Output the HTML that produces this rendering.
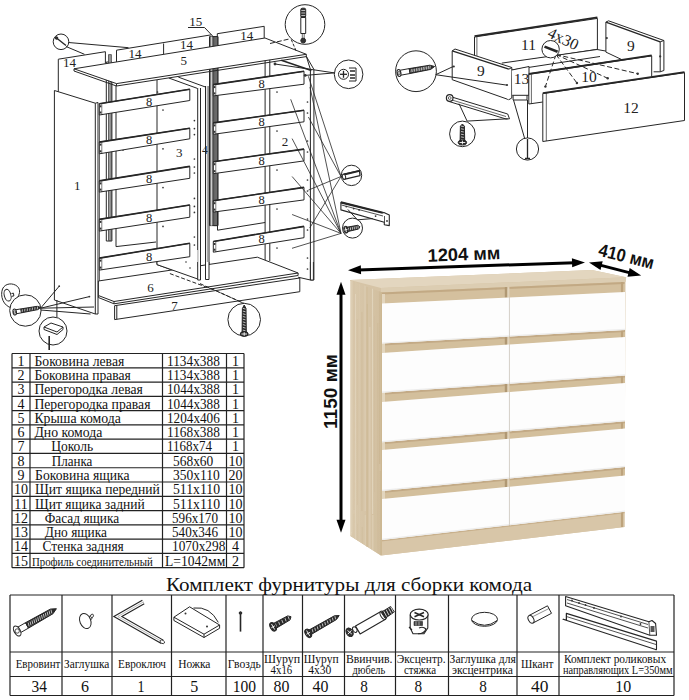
<!DOCTYPE html><html><head><meta charset="utf-8"><style>html,body{margin:0;padding:0;background:#fff;width:689px;height:700px;overflow:hidden}svg{display:block}</style></head><body><svg width="689" height="700" viewBox="0 0 689 700"><rect width="689" height="700" fill="#fff"/><defs><linearGradient id="wside" x1="0" x2="1" y1="0" y2="0"><stop offset="0" stop-color="#ddcfb5"/><stop offset="0.15" stop-color="#d8c7aa"/><stop offset="0.6" stop-color="#d5c3a5"/><stop offset="1" stop-color="#d2bf9f"/></linearGradient><pattern id="grain" width="7" height="40" patternUnits="userSpaceOnUse"><rect width="7" height="40" fill="none"/><line x1="1.5" y1="0" x2="1.5" y2="40" stroke="#c9b592" stroke-width="0.5" opacity="0.5"/><line x1="4.5" y1="0" x2="4.5" y2="40" stroke="#e6d9c2" stroke-width="0.6" opacity="0.6"/></pattern></defs><polygon points="350,280 592,270 626.2,277.2 625.5,282 624.5,527 381,555.5 350.4,536" fill="#d6c4a6"/><polygon points="350,280 381,292 381,555.5 350.4,536" fill="url(#wside)"/><clipPath id="sideclip"><polygon points="350,280 381,292 381,555.5 350.4,536"/></clipPath><g clip-path="url(#sideclip)"><line x1="351.5" y1="274" x2="351.4" y2="532" stroke="#c8b38f" stroke-width="0.99" opacity="0.32"/><line x1="351.8" y1="533" x2="351.8" y2="733" stroke="#c8b38f" stroke-width="0.99" opacity="0.25"/><line x1="353.8" y1="275" x2="354.1" y2="510" stroke="#c8b38f" stroke-width="0.46" opacity="0.45"/><line x1="354.1" y1="514" x2="354.1" y2="714" stroke="#c8b38f" stroke-width="0.46" opacity="0.36"/><line x1="355.5" y1="294" x2="355.1" y2="639" stroke="#e6dac4" stroke-width="0.92" opacity="0.68"/><line x1="355.8" y1="665" x2="355.8" y2="865" stroke="#e6dac4" stroke-width="0.92" opacity="0.54"/><line x1="357.3" y1="319" x2="357.4" y2="505" stroke="#c8b38f" stroke-width="0.68" opacity="0.30"/><line x1="357.6" y1="524" x2="357.6" y2="724" stroke="#c8b38f" stroke-width="0.68" opacity="0.24"/><line x1="359.4" y1="282" x2="359.3" y2="568" stroke="#e6dac4" stroke-width="0.45" opacity="0.28"/><line x1="359.7" y1="578" x2="359.7" y2="778" stroke="#e6dac4" stroke-width="0.45" opacity="0.22"/><line x1="361.9" y1="312" x2="361.9" y2="511" stroke="#c8b38f" stroke-width="1.11" opacity="0.38"/><line x1="362.2" y1="527" x2="362.2" y2="727" stroke="#c8b38f" stroke-width="1.11" opacity="0.31"/><line x1="365.0" y1="277" x2="365.2" y2="511" stroke="#e6dac4" stroke-width="1.28" opacity="0.38"/><line x1="365.3" y1="515" x2="365.3" y2="715" stroke="#e6dac4" stroke-width="1.28" opacity="0.30"/><line x1="367.3" y1="304" x2="367.1" y2="629" stroke="#c8b38f" stroke-width="1.09" opacity="0.55"/><line x1="367.6" y1="650" x2="367.6" y2="850" stroke="#c8b38f" stroke-width="1.09" opacity="0.44"/><line x1="369.8" y1="327" x2="369.9" y2="572" stroke="#e6dac4" stroke-width="1.16" opacity="0.46"/><line x1="370.1" y1="573" x2="370.1" y2="773" stroke="#e6dac4" stroke-width="1.16" opacity="0.36"/><line x1="372.5" y1="287" x2="372.6" y2="514" stroke="#e6dac4" stroke-width="1.14" opacity="0.70"/><line x1="372.8" y1="515" x2="372.8" y2="715" stroke="#e6dac4" stroke-width="1.14" opacity="0.56"/><line x1="374.7" y1="316" x2="374.5" y2="492" stroke="#c8b38f" stroke-width="0.45" opacity="0.30"/><line x1="375.0" y1="504" x2="375.0" y2="704" stroke="#c8b38f" stroke-width="0.45" opacity="0.24"/><line x1="377.8" y1="323" x2="378.1" y2="637" stroke="#c8b38f" stroke-width="0.89" opacity="0.45"/><line x1="378.1" y1="645" x2="378.1" y2="845" stroke="#c8b38f" stroke-width="0.89" opacity="0.36"/><line x1="380.0" y1="279" x2="379.7" y2="464" stroke="#c8b38f" stroke-width="1.26" opacity="0.65"/><line x1="380.3" y1="471" x2="380.3" y2="671" stroke="#c8b38f" stroke-width="1.26" opacity="0.52"/></g><line x1="350.8" y1="281" x2="350.8" y2="535.5" stroke="#e8ddc8" stroke-width="1.2"/><polygon points="350,280 592,270 626.2,277.2 381,288" fill="#e3d6bf"/><polygon points="381,288 626.2,277.2 625.5,282 381,292.5" fill="#dccdb2"/><polygon points="381.0,292.5 624.5,282.0 624.5,292.0 381.0,303.5" fill="#d4c09e"/><polygon points="381.0,292.5 624.5,282.0 624.5,284.0 381.0,294.5" fill="#c2a984"/><polygon points="382.0,343.6 625.0,330.0 625.0,337.0 382.0,353.0" fill="#d3bf9c"/><polygon points="382.0,343.6 625.0,330.0 625.0,332.0 382.0,345.6" fill="#c3aa86"/><polygon points="382.0,392.8 625.0,375.5 625.0,383.0 382.0,402.0" fill="#d3bf9c"/><polygon points="382.0,392.8 625.0,375.5 625.0,377.5 382.0,394.8" fill="#c3aa86"/><polygon points="382.0,442.3 625.0,421.3 625.0,428.6 382.0,450.0" fill="#d3bf9c"/><polygon points="382.0,442.3 625.0,421.3 625.0,423.3 382.0,444.3" fill="#c3aa86"/><polygon points="382.0,491.0 625.0,467.0 625.0,475.6 382.0,499.0" fill="#d3bf9c"/><polygon points="382.0,491.0 625.0,467.0 625.0,469.0 382.0,493.0" fill="#c3aa86"/><rect x="504.8" y="287.1" width="2.6" height="10.5" fill="#b09873"/><rect x="507.4" y="287.1" width="2" height="10.5" fill="#e0d3bb"/><rect x="504.8" y="336.7" width="2.6" height="8.2" fill="#b09873"/><rect x="507.4" y="336.7" width="2" height="8.2" fill="#e0d3bb"/><rect x="504.8" y="384.0" width="2.6" height="8.3" fill="#b09873"/><rect x="507.4" y="384.0" width="2" height="8.3" fill="#e0d3bb"/><rect x="504.8" y="431.6" width="2.6" height="7.5" fill="#b09873"/><rect x="507.4" y="431.6" width="2" height="7.5" fill="#e0d3bb"/><rect x="504.8" y="478.8" width="2.6" height="8.3" fill="#b09873"/><rect x="507.4" y="478.8" width="2" height="8.3" fill="#e0d3bb"/><polygon points="381.0,540.0 624.5,511.8 624.5,527.0 381.0,555.5" fill="#d8c6a8"/><polygon points="381.0,540.0 624.5,511.8 624.5,513.3 381.0,541.5" fill="#c8b08c"/><line x1="381.5" y1="292" x2="381.5" y2="555" stroke="#cdb893" stroke-width="1"/><line x1="383.5" y1="294" x2="383.5" y2="540" stroke="#e2d5bd" stroke-width="3"/><line x1="367" y1="287" x2="367" y2="547" stroke="#d0bb97" stroke-width="0.8"/><line x1="622" y1="282" x2="622" y2="527" stroke="#bda37c" stroke-width="2.2"/><polygon points="382.0,303.5 509.0,297.5 509.0,336.5 382.0,343.6" fill="#fdfdfd"/><polygon points="382.0,342.4 509.0,335.3 509.0,336.5 382.0,343.6" fill="#ededed"/><polygon points="509.8,297.5 625.0,292.0 625.0,330.0 509.8,336.4" fill="#fdfdfd"/><polygon points="509.8,335.2 625.0,328.8 625.0,330.0 509.8,336.4" fill="#ededed"/><line x1="509.4" y1="297.5" x2="509.4" y2="336.5" stroke="#d4d4d4" stroke-width="0.8"/><polygon points="382.0,353.0 509.0,344.6 509.0,383.8 382.0,392.8" fill="#fdfdfd"/><polygon points="382.0,391.6 509.0,382.6 509.0,383.8 382.0,392.8" fill="#ededed"/><polygon points="509.8,344.6 625.0,337.0 625.0,375.5 509.8,383.7" fill="#fdfdfd"/><polygon points="509.8,382.5 625.0,374.3 625.0,375.5 509.8,383.7" fill="#ededed"/><line x1="509.4" y1="344.6" x2="509.4" y2="383.7" stroke="#d4d4d4" stroke-width="0.8"/><polygon points="382.0,402.0 509.0,392.1 509.0,431.3 382.0,442.3" fill="#fdfdfd"/><polygon points="382.0,441.1 509.0,430.1 509.0,431.3 382.0,442.3" fill="#ededed"/><polygon points="509.8,392.0 625.0,383.0 625.0,421.3 509.8,431.3" fill="#fdfdfd"/><polygon points="509.8,430.1 625.0,420.1 625.0,421.3 509.8,431.3" fill="#ededed"/><line x1="509.4" y1="392.0" x2="509.4" y2="431.3" stroke="#d4d4d4" stroke-width="0.8"/><polygon points="382.0,450.0 509.0,438.8 509.0,478.5 382.0,491.0" fill="#fdfdfd"/><polygon points="382.0,489.8 509.0,477.3 509.0,478.5 382.0,491.0" fill="#ededed"/><polygon points="509.8,438.7 625.0,428.6 625.0,467.0 509.8,478.4" fill="#fdfdfd"/><polygon points="509.8,477.2 625.0,465.8 625.0,467.0 509.8,478.4" fill="#ededed"/><line x1="509.4" y1="438.8" x2="509.4" y2="478.4" stroke="#d4d4d4" stroke-width="0.8"/><polygon points="382.0,499.0 509.0,486.8 509.0,525.3 382.0,540.0" fill="#fdfdfd"/><polygon points="382.0,538.8 509.0,524.1 509.0,525.3 382.0,540.0" fill="#ededed"/><polygon points="509.8,486.7 625.0,475.6 625.0,511.8 509.8,525.2" fill="#fdfdfd"/><polygon points="509.8,524.0 625.0,510.6 625.0,511.8 509.8,525.2" fill="#ededed"/><line x1="509.4" y1="486.7" x2="509.4" y2="525.2" stroke="#d4d4d4" stroke-width="0.8"/><g stroke="#262626" stroke-width="1" fill="none" font-family="Liberation Serif" stroke-linejoin="round"><polyline points="58.3,92.0 58.3,59.2 105.4,51.7 105.4,63.7" fill="none"/><polyline points="116.5,62.0 116.5,50.2 211.5,34.8" fill="none"/><line x1="163.6" y1="43.5" x2="163.6" y2="54.5"/><polyline points="217.3,45.2 217.3,33.7 264.2,26.3 264.2,38.0" fill="none"/><text x="69.6" y="67.0" font-size="13" text-anchor="middle" stroke="none" fill="#222">14</text><text x="135.0" y="57.5" font-size="13" text-anchor="middle" stroke="none" fill="#222">14</text><text x="186.6" y="48.8" font-size="13" text-anchor="middle" stroke="none" fill="#222">14</text><text x="246.8" y="40.0" font-size="13" text-anchor="middle" stroke="none" fill="#222">14</text><rect x="106.3" y="62" width="5.6" height="179" fill="#fff"/><rect x="108.5" y="54.6" width="2.9" height="186" fill="#999" stroke="#333" stroke-width="0.7"/><rect x="209.5" y="36.6" width="8.5" height="189" fill="#fff"/><rect x="210.4" y="36.6" width="2" height="189" fill="#ccc" stroke="none"/><line x1="210.4" y1="36.6" x2="210.4" y2="225.6" stroke-width="0.6"/><line x1="212.5" y1="36.6" x2="212.5" y2="225.6" stroke-width="0.6"/><rect x="213.6" y="36.6" width="4" height="189" fill="#6a6a6a" stroke="#222" stroke-width="0.8"/><text x="195.8" y="26.0" font-size="13" text-anchor="middle" stroke="none" fill="#222">15</text><polyline points="188.0,27.5 204.5,27.5 213.2,36.6" fill="none"/><polyline points="116.0,86.0 116.0,246.6 156.0,242.0" fill="none"/><line x1="157.0" y1="80.0" x2="157.0" y2="264.6"/><line x1="157.0" y1="264.6" x2="197.7" y2="279.0"/><polyline points="197.7,88.0 197.7,281.0 200.5,281.0 200.5,88.0" fill="none"/><text x="179.3" y="156.5" font-size="13" text-anchor="middle" stroke="none" fill="#222">3</text><line x1="168.8" y1="78.0" x2="197.1" y2="88.3"/><line x1="178.3" y1="77.1" x2="206.5" y2="87.4"/><polyline points="205.5,86.0 205.5,280.0 209.0,280.0 209.0,86.0" fill="#fff"/><line x1="207.3" y1="86.0" x2="207.3" y2="280.0" stroke-width="0.5"/><text x="204.8" y="154.2" font-size="11.5" text-anchor="middle" stroke="none" fill="#222">4</text><line x1="265.1" y1="52.0" x2="265.1" y2="262.0"/><line x1="269.8" y1="51.0" x2="269.8" y2="261.0"/><text x="284.9" y="145.5" font-size="13" text-anchor="middle" stroke="none" fill="#222">2</text><polyline points="306.3,56.3 310.4,69.4 310.4,280.0 313.9,280.0 313.9,69.4 306.3,56.3" fill="none"/><circle cx="157.5" cy="92.0" r="0.85" fill="#333" stroke="none"/><circle cx="123.0" cy="110.0" r="0.85" fill="#333" stroke="none"/><circle cx="123.0" cy="150.0" r="0.85" fill="#333" stroke="none"/><circle cx="163.0" cy="110.0" r="0.85" fill="#333" stroke="none"/><circle cx="277.0" cy="92.0" r="0.85" fill="#333" stroke="none"/><circle cx="163.0" cy="148.8" r="0.85" fill="#333" stroke="none"/><circle cx="277.0" cy="131.0" r="0.85" fill="#333" stroke="none"/><circle cx="163.0" cy="187.6" r="0.85" fill="#333" stroke="none"/><circle cx="277.0" cy="170.0" r="0.85" fill="#333" stroke="none"/><circle cx="163.0" cy="226.4" r="0.85" fill="#333" stroke="none"/><circle cx="277.0" cy="209.0" r="0.85" fill="#333" stroke="none"/><circle cx="163.0" cy="265.2" r="0.85" fill="#333" stroke="none"/><circle cx="277.0" cy="248.0" r="0.85" fill="#333" stroke="none"/><circle cx="194.4" cy="120.6" r="0.85" fill="#333" stroke="none"/><circle cx="194.4" cy="128.6" r="0.85" fill="#333" stroke="none"/><circle cx="194.4" cy="134.6" r="0.85" fill="#333" stroke="none"/><circle cx="194.4" cy="159.0" r="0.85" fill="#333" stroke="none"/><circle cx="194.4" cy="167.0" r="0.85" fill="#333" stroke="none"/><circle cx="194.4" cy="173.0" r="0.85" fill="#333" stroke="none"/><circle cx="194.4" cy="198.4" r="0.85" fill="#333" stroke="none"/><circle cx="194.4" cy="206.4" r="0.85" fill="#333" stroke="none"/><circle cx="194.4" cy="212.4" r="0.85" fill="#333" stroke="none"/><circle cx="194.4" cy="237.0" r="0.85" fill="#333" stroke="none"/><circle cx="194.4" cy="245.0" r="0.85" fill="#333" stroke="none"/><circle cx="194.4" cy="251.0" r="0.85" fill="#333" stroke="none"/><circle cx="307.5" cy="102.0" r="0.85" fill="#333" stroke="none"/><circle cx="307.5" cy="113.0" r="0.85" fill="#333" stroke="none"/><circle cx="307.5" cy="141.0" r="0.85" fill="#333" stroke="none"/><circle cx="307.5" cy="152.0" r="0.85" fill="#333" stroke="none"/><circle cx="307.5" cy="180.0" r="0.85" fill="#333" stroke="none"/><circle cx="307.5" cy="191.0" r="0.85" fill="#333" stroke="none"/><circle cx="307.5" cy="219.0" r="0.85" fill="#333" stroke="none"/><circle cx="307.5" cy="230.0" r="0.85" fill="#333" stroke="none"/><circle cx="307.5" cy="258.0" r="0.85" fill="#333" stroke="none"/><circle cx="307.5" cy="269.0" r="0.85" fill="#333" stroke="none"/><polygon points="74.0,68.8 265.0,38.0 306.3,54.3 116.5,83.6" fill="#fff"/><polyline points="74.0,68.8 74.0,71.0 116.5,86.0 306.3,56.6 306.3,54.3" fill="none"/><line x1="116.5" y1="83.6" x2="116.5" y2="86.0"/><text x="183.8" y="65.3" font-size="13" text-anchor="middle" stroke="none" fill="#222">5</text><polyline points="54.4,300.0 54.4,90.5 95.3,103.2 95.3,314.0 54.4,300.0" fill="#fff"/><polyline points="95.3,103.2 98.0,102.5 98.0,314.0 95.3,314.0" fill="none"/><line x1="56.9" y1="300.0" x2="56.9" y2="315.0"/><line x1="99.5" y1="104.0" x2="99.5" y2="281.0" stroke-width="0.7"/><text x="77.2" y="190.3" font-size="13" text-anchor="middle" stroke="none" fill="#222">1</text><polygon points="98.4,281.0 257.4,257.2 298.1,273.0 114.0,301.5 98.4,295.5" fill="#fff"/><polyline points="98.4,295.5 98.4,297.5 114.0,303.8 298.1,275.5 298.1,273.0" fill="none"/><line x1="114.0" y1="301.5" x2="114.0" y2="303.8"/><text x="150.4" y="292.0" font-size="13" text-anchor="middle" stroke="none" fill="#222">6</text><polygon points="157.0,250.0 197.7,250.0 197.7,279.0 157.0,264.6" fill="#fff" stroke="none"/><line x1="157.0" y1="250.0" x2="157.0" y2="264.6"/><line x1="157.0" y1="264.6" x2="197.7" y2="279.0"/><circle cx="186.0" cy="262.0" r="0.8" fill="#333" stroke="none"/><circle cx="190.0" cy="268.0" r="0.8" fill="#333" stroke="none"/><polyline points="197.7,262.0 197.7,280.0 200.5,280.0 200.5,262.0" fill="#fff"/><polyline points="205.5,262.0 205.5,279.5 209.0,279.5 209.0,262.0" fill="#fff"/><polyline points="310.4,262.0 310.4,280.0 313.4,280.0 313.4,262.0" fill="#fff"/><line x1="298.1" y1="277.2" x2="310.4" y2="280.0"/><polygon points="114.6,305.7 299.8,278.0 299.8,291.7 114.6,319.6" fill="#fff"/><line x1="116.8" y1="305.5" x2="116.8" y2="319.3"/><text x="174.5" y="309.5" font-size="13" text-anchor="middle" stroke="none" fill="#222">7</text><polyline points="169.9,273.6 215.0,290.3 244.2,303.5" fill="none" stroke-dasharray="4,2"/><line x1="200.0" y1="283.6" x2="244.2" y2="303.5" stroke-dasharray="4,2"/><polygon points="99.3,103.8 189.8,89.2 189.8,100.5 99.3,115.0" fill="#fff"/><line x1="99.3" y1="103.8" x2="189.8" y2="89.2" stroke-width="1.6"/><rect x="99.6" y="105.3" width="1.8" height="2" fill="#333" stroke="none"/><rect x="99.6" y="111.5" width="1.8" height="2" fill="#333" stroke="none"/><line x1="101.8" y1="103.8" x2="101.8" y2="115.0" stroke-width="0.6"/><text x="149.0" y="105.7" font-size="12.5" text-anchor="middle" stroke="none" fill="#222">8</text><polygon points="99.3,142.1 189.8,128.2 189.8,138.8 99.3,153.8" fill="#fff"/><line x1="99.3" y1="142.1" x2="189.8" y2="128.2" stroke-width="1.6"/><rect x="99.6" y="143.6" width="1.8" height="2" fill="#333" stroke="none"/><rect x="99.6" y="150.3" width="1.8" height="2" fill="#333" stroke="none"/><line x1="101.8" y1="142.1" x2="101.8" y2="153.8" stroke-width="0.6"/><text x="149.0" y="144.3" font-size="12.5" text-anchor="middle" stroke="none" fill="#222">8</text><polygon points="99.3,180.9 189.8,166.4 189.8,178.3 99.3,192.1" fill="#fff"/><line x1="99.3" y1="180.9" x2="189.8" y2="166.4" stroke-width="1.6"/><rect x="99.6" y="182.4" width="1.8" height="2" fill="#333" stroke="none"/><rect x="99.6" y="188.6" width="1.8" height="2" fill="#333" stroke="none"/><line x1="101.8" y1="180.9" x2="101.8" y2="192.1" stroke-width="0.6"/><text x="149.0" y="183.0" font-size="12.5" text-anchor="middle" stroke="none" fill="#222">8</text><polygon points="99.3,219.4 189.8,205.0 189.8,217.2 99.3,231.1" fill="#fff"/><line x1="99.3" y1="219.4" x2="189.8" y2="205.0" stroke-width="1.6"/><rect x="99.6" y="220.9" width="1.8" height="2" fill="#333" stroke="none"/><rect x="99.6" y="227.6" width="1.8" height="2" fill="#333" stroke="none"/><line x1="101.8" y1="219.4" x2="101.8" y2="231.1" stroke-width="0.6"/><text x="149.0" y="221.8" font-size="12.5" text-anchor="middle" stroke="none" fill="#222">8</text><polygon points="99.3,258.1 189.8,243.3 189.8,256.7 99.3,270.1" fill="#fff"/><line x1="99.3" y1="258.1" x2="189.8" y2="243.3" stroke-width="1.6"/><rect x="99.6" y="259.6" width="1.8" height="2" fill="#333" stroke="none"/><rect x="99.6" y="266.6" width="1.8" height="2" fill="#333" stroke="none"/><line x1="101.8" y1="258.1" x2="101.8" y2="270.1" stroke-width="0.6"/><text x="149.0" y="260.7" font-size="12.5" text-anchor="middle" stroke="none" fill="#222">8</text><polyline points="217.5,200.0 217.5,230.2 265.1,222.5" fill="none"/><polygon points="213.3,84.6 304.0,71.3 304.0,84.2 213.3,95.9" fill="#fff"/><line x1="213.3" y1="84.6" x2="304.0" y2="71.3" stroke-width="1.6"/><rect x="213.6" y="86.1" width="1.8" height="2" fill="#333" stroke="none"/><rect x="213.6" y="92.4" width="1.8" height="2" fill="#333" stroke="none"/><line x1="215.8" y1="84.6" x2="215.8" y2="95.9" stroke-width="0.6"/><text x="261.5" y="87.9" font-size="12.5" text-anchor="middle" stroke="none" fill="#222">8</text><polygon points="213.3,122.9 304.0,110.3 304.0,121.8 213.3,134.3" fill="#fff"/><line x1="213.3" y1="122.9" x2="304.0" y2="110.3" stroke-width="1.6"/><rect x="213.6" y="124.4" width="1.8" height="2" fill="#333" stroke="none"/><rect x="213.6" y="130.8" width="1.8" height="2" fill="#333" stroke="none"/><line x1="215.8" y1="122.9" x2="215.8" y2="134.3" stroke-width="0.6"/><text x="261.5" y="126.2" font-size="12.5" text-anchor="middle" stroke="none" fill="#222">8</text><polygon points="213.3,161.7 304.0,149.1 304.0,160.9 213.3,173.7" fill="#fff"/><line x1="213.3" y1="161.7" x2="304.0" y2="149.1" stroke-width="1.6"/><rect x="213.6" y="163.2" width="1.8" height="2" fill="#333" stroke="none"/><rect x="213.6" y="170.2" width="1.8" height="2" fill="#333" stroke="none"/><line x1="215.8" y1="161.7" x2="215.8" y2="173.7" stroke-width="0.6"/><text x="261.5" y="165.3" font-size="12.5" text-anchor="middle" stroke="none" fill="#222">8</text><polygon points="213.3,200.7 304.0,187.4 304.0,199.9 213.3,212.1" fill="#fff"/><line x1="213.3" y1="200.7" x2="304.0" y2="187.4" stroke-width="1.6"/><rect x="213.6" y="202.2" width="1.8" height="2" fill="#333" stroke="none"/><rect x="213.6" y="208.6" width="1.8" height="2" fill="#333" stroke="none"/><line x1="215.8" y1="200.7" x2="215.8" y2="212.1" stroke-width="0.6"/><text x="261.5" y="203.9" font-size="12.5" text-anchor="middle" stroke="none" fill="#222">8</text><polygon points="213.3,241.5 304.0,226.4 304.0,237.7 213.3,252.2" fill="#fff"/><line x1="213.3" y1="241.5" x2="304.0" y2="226.4" stroke-width="1.6"/><rect x="213.6" y="243.0" width="1.8" height="2" fill="#333" stroke="none"/><rect x="213.6" y="248.7" width="1.8" height="2" fill="#333" stroke="none"/><line x1="215.8" y1="241.5" x2="215.8" y2="252.2" stroke-width="0.6"/><text x="261.5" y="243.3" font-size="12.5" text-anchor="middle" stroke="none" fill="#222">8</text><circle cx="61.0" cy="41.8" r="7.8" fill="#fff"/><line x1="56.5" y1="38.0" x2="66.0" y2="45.5" stroke-width="1.4"/><circle cx="56.5" cy="38.0" r="1.3" fill="#333"/><line x1="68.5" y1="42.5" x2="128.5" y2="47.7"/><line x1="66.0" y1="46.5" x2="84.5" y2="54.3"/><circle cx="305.0" cy="24.5" r="19.8" fill="#fff"/><rect x="300.8" y="17.5" width="4.9" height="16" fill="#fff" stroke="#262626"/><rect x="300.8" y="8.2" width="4.9" height="9.3" rx="1.5" fill="#333" stroke="#262626"/><line x1="301.3" y1="10.5" x2="305.2" y2="10.5" stroke-width="0.8" stroke="#ddd"/><line x1="301.3" y1="13.0" x2="305.2" y2="13.0" stroke-width="0.8" stroke="#ddd"/><line x1="301.3" y1="15.5" x2="305.2" y2="15.5" stroke-width="0.8" stroke="#ddd"/><line x1="302.3" y1="33.5" x2="302.3" y2="39.0" stroke-width="0.7"/><line x1="304.2" y1="33.5" x2="304.2" y2="39.0" stroke-width="0.7"/><circle cx="303.2" cy="40.6" r="2.4" fill="#333"/><line x1="291.3" y1="39.6" x2="296.5" y2="51.9" stroke-dasharray="3,1.5"/><line x1="270.0" y1="43.5" x2="290.4" y2="38.7" stroke-dasharray="5,2"/><circle cx="348.6" cy="74.3" r="14.3" fill="#fff"/><circle cx="343.5" cy="74.3" r="5.0" fill="#fff"/><line x1="340.0" y1="74.3" x2="347.0" y2="74.3" stroke-width="1.3"/><line x1="343.5" y1="70.8" x2="343.5" y2="77.8" stroke-width="1.3"/><polyline points="349.0,68.0 356.0,68.0 356.0,81.0 349.0,81.0" fill="#fff"/><line x1="350.0" y1="71.0" x2="355.0" y2="71.0" stroke-width="1.5"/><line x1="350.0" y1="75.0" x2="355.0" y2="75.0" stroke-width="1.5"/><line x1="350.0" y1="78.0" x2="355.0" y2="78.0" stroke-width="1.5"/><line x1="334.3" y1="72.9" x2="275.0" y2="64.0"/><line x1="334.3" y1="72.9" x2="305.2" y2="75.4"/><circle cx="275.0" cy="64.0" r="1.4" fill="#333" stroke="none"/><circle cx="305.2" cy="75.4" r="1.4" fill="#333" stroke="none"/><line x1="281.3" y1="60.3" x2="311.4" y2="70.4" stroke-width="1.6"/><circle cx="351.5" cy="175.4" r="10.2" fill="#fff"/><polygon points="343.5,174.3 359.5,170.6 360.0,175.6 344.0,179.3" fill="#fff" stroke-width="1.3"/><line x1="344.0" y1="174.5" x2="359.5" y2="170.9" stroke-width="2"/><ellipse cx="344" cy="176.8" rx="1.6" ry="2.6" transform="rotate(-13 344 176.8)" fill="#fff" stroke-width="1"/><circle cx="352.5" cy="228.1" r="10.0" fill="#fff"/><polygon points="346.6,231.8 348.4,231.4 347.6,227.1 345.7,227.5" fill="#fff"/><polygon points="348.4,231.4 358.6,229.0 359.9,226.8 357.8,225.3 347.6,227.1" fill="#2a2a2a"/><line x1="348.7" y1="230.5" x2="348.5" y2="227.8" stroke="#fff" stroke-width="0.7"/><line x1="350.6" y1="230.1" x2="350.4" y2="227.4" stroke="#fff" stroke-width="0.7"/><line x1="352.5" y1="229.7" x2="352.3" y2="227.0" stroke="#fff" stroke-width="0.7"/><line x1="354.4" y1="229.3" x2="354.2" y2="226.6" stroke="#fff" stroke-width="0.7"/><line x1="356.3" y1="228.9" x2="356.1" y2="226.2" stroke="#fff" stroke-width="0.7"/><line x1="358.2" y1="228.5" x2="358.0" y2="225.8" stroke="#fff" stroke-width="0.7"/><ellipse cx="345.9" cy="229.7" rx="2.0" ry="3.4" transform="rotate(-11.7 345.9 229.7)" fill="#2a2a2a"/><line x1="345.4" y1="227.4" x2="346.4" y2="232.0" stroke="#fff" stroke-width="0.9"/><line x1="344.4" y1="230.0" x2="347.4" y2="229.4" stroke="#fff" stroke-width="0.9"/><polygon points="340.9,202.4 382.7,212.8 383.9,212.4 389.3,214.9 389.3,225.6 384.3,224.8 384.3,222.3 340.9,209.9" fill="#fff" stroke-width="1.1"/><line x1="340.9" y1="202.4" x2="382.7" y2="212.8" stroke-width="2.2"/><line x1="341.5" y1="205.0" x2="383.0" y2="216.0" stroke-width="0.8"/><line x1="384.5" y1="216.0" x2="384.5" y2="222.5" stroke-width="0.8"/><circle cx="346.3" cy="206.6" r="0.9" fill="#333" stroke="none"/><circle cx="353.7" cy="208.6" r="0.9" fill="#333" stroke="none"/><circle cx="359.1" cy="209.9" r="0.9" fill="#333" stroke="none"/><circle cx="375.6" cy="216.1" r="0.9" fill="#333" stroke="none"/><circle cx="387.0" cy="221.0" r="0.9" fill="#333" stroke="none"/><line x1="357.4" y1="219.8" x2="347.9" y2="209.5"/><line x1="357.4" y1="219.8" x2="372.7" y2="218.6"/><line x1="341.0" y1="176.5" x2="308.4" y2="76.3" stroke-width="0.8"/><line x1="341.0" y1="176.5" x2="308.4" y2="117.0" stroke-width="0.8"/><line x1="341.0" y1="176.5" x2="308.4" y2="190.1" stroke-width="0.8"/><line x1="341.0" y1="176.5" x2="309.7" y2="228.0" stroke-width="0.8"/><line x1="341.0" y1="233.4" x2="290.7" y2="99.3" stroke-width="0.8"/><line x1="341.0" y1="233.4" x2="292.1" y2="138.6" stroke-width="0.8"/><line x1="341.0" y1="233.4" x2="292.1" y2="176.5" stroke-width="0.8"/><line x1="341.0" y1="233.4" x2="292.1" y2="214.5" stroke-width="0.8"/><line x1="341.0" y1="233.4" x2="292.0" y2="248.3" stroke-width="0.8"/><line x1="341.0" y1="233.4" x2="310.0" y2="87.0" stroke-width="0.8"/><path d="M12,308 C3,306 0,296 2.5,289 C5,283 13,282.5 17.5,286.5 C21,290 19.5,295 17,298" fill="none"/><ellipse cx="7.6" cy="295.2" rx="3.3" ry="6" transform="rotate(-15 7.6 295.2)" fill="none"/><polyline points="11.5,293.5 13.5,293.2 13.8,296.0 11.5,296.3" fill="#fff"/><circle cx="25.4" cy="310.5" r="15.7" fill="#fff"/><polygon points="15.6,313.9 21.5,312.8 20.9,308.9 14.9,309.9" fill="#fff"/><polygon points="21.5,312.8 37.9,309.6 40.7,307.4 37.3,306.3 20.9,308.9" fill="#2a2a2a"/><line x1="22.2" y1="311.9" x2="22.4" y2="309.4" stroke="#fff" stroke-width="0.7"/><line x1="24.7" y1="311.4" x2="24.9" y2="309.0" stroke="#fff" stroke-width="0.7"/><line x1="27.2" y1="311.0" x2="27.4" y2="308.5" stroke="#fff" stroke-width="0.7"/><line x1="29.7" y1="310.6" x2="30.0" y2="308.1" stroke="#fff" stroke-width="0.7"/><line x1="32.2" y1="310.1" x2="32.5" y2="307.6" stroke="#fff" stroke-width="0.7"/><line x1="34.8" y1="309.7" x2="35.0" y2="307.2" stroke="#fff" stroke-width="0.7"/><line x1="37.3" y1="309.2" x2="37.5" y2="306.7" stroke="#fff" stroke-width="0.7"/><ellipse cx="14.7" cy="312.0" rx="1.7" ry="3.0" transform="rotate(-10.0 14.7 312.0)" fill="#fff" stroke-width="1.1"/><circle cx="14.7" cy="312.0" r="1.2" fill="none" stroke-width="0.8"/><line x1="40.6" y1="308.2" x2="59.2" y2="286.2"/><line x1="40.6" y1="308.2" x2="89.4" y2="296.6"/><line x1="40.6" y1="308.2" x2="94.0" y2="307.0"/><line x1="40.6" y1="310.0" x2="90.6" y2="314.0"/><circle cx="59.2" cy="286.2" r="0.9" fill="#333" stroke="none"/><circle cx="89.4" cy="296.6" r="0.9" fill="#333" stroke="none"/><circle cx="53.0" cy="331.0" r="14.0" fill="#fff"/><polygon points="44.0,327.0 51.0,323.0 63.0,327.0 57.0,332.0" fill="#fff"/><polyline points="44.0,327.0 44.0,329.5 57.0,334.5 63.0,329.5 63.0,327.0" fill="none"/><line x1="49.2" y1="336.0" x2="49.2" y2="350.0" stroke-width="1.6"/><line x1="56.9" y1="315.0" x2="56.9" y2="317.0"/><circle cx="244.2" cy="319.6" r="16.3" fill="#fff"/><polygon points="246.3,333.4 246.3,331.7 242.1,331.7 242.1,333.4" fill="#fff"/><polygon points="246.3,331.7 246.0,308.5 244.2,305.0 242.4,308.5 242.1,331.7" fill="#2a2a2a"/><line x1="245.5" y1="330.8" x2="242.9" y2="330.1" stroke="#fff" stroke-width="0.7"/><line x1="245.5" y1="328.1" x2="242.9" y2="327.4" stroke="#fff" stroke-width="0.7"/><line x1="245.5" y1="325.4" x2="242.9" y2="324.6" stroke="#fff" stroke-width="0.7"/><line x1="245.5" y1="322.7" x2="242.9" y2="321.9" stroke="#fff" stroke-width="0.7"/><line x1="245.5" y1="319.9" x2="242.9" y2="319.2" stroke="#fff" stroke-width="0.7"/><line x1="245.5" y1="317.2" x2="242.9" y2="316.5" stroke="#fff" stroke-width="0.7"/><line x1="245.5" y1="314.5" x2="242.9" y2="313.8" stroke="#fff" stroke-width="0.7"/><line x1="245.5" y1="311.8" x2="242.9" y2="311.1" stroke="#fff" stroke-width="0.7"/><line x1="245.5" y1="309.1" x2="242.9" y2="308.3" stroke="#fff" stroke-width="0.7"/><ellipse cx="244.2" cy="334.0" rx="2.4" ry="4.0" transform="rotate(-90.0 244.2 334.0)" fill="#2a2a2a"/><line x1="241.4" y1="334.0" x2="247.0" y2="334.0" stroke="#fff" stroke-width="0.9"/><line x1="244.2" y1="335.8" x2="244.2" y2="332.2" stroke="#fff" stroke-width="0.9"/><polyline points="474.5,57.0 474.5,37.0 597.4,18.4 597.4,49.3 512.0,62.5" fill="#fff"/><line x1="474.5" y1="36.2" x2="597.4" y2="17.4" stroke-width="1.8"/><line x1="476.9" y1="37.0" x2="476.9" y2="56.5" stroke-width="0.7"/><text x="528.5" y="50.3" font-size="15.5" text-anchor="middle" stroke="none" fill="#222">11</text><polyline points="501.8,63.1 597.0,49.5 640.0,57.0 531.0,73.5" fill="#fff"/><line x1="511.8" y1="70.0" x2="600.0" y2="56.5"/><polyline points="605.9,52.1 605.9,22.2 660.2,41.8 660.2,71.8 653.6,71.8" fill="#fff"/><polyline points="605.9,22.2 608.5,20.8 663.9,40.5 663.9,70.5 660.2,71.8" fill="#fff"/><line x1="605.9" y1="22.2" x2="660.2" y2="41.8" stroke-width="1.4"/><line x1="660.2" y1="41.8" x2="663.9" y2="40.5"/><line x1="660.2" y1="41.8" x2="660.2" y2="71.8"/><line x1="605.9" y1="52.1" x2="621.8" y2="59.6"/><circle cx="606.8" cy="38.1" r="1.1" fill="#333" stroke="none"/><circle cx="660.2" cy="56.4" r="1.1" fill="#333" stroke="none"/><text x="630.8" y="51.2" font-size="15.5" text-anchor="middle" stroke="none" fill="#222">9</text><polygon points="452.2,50.9 508.8,69.2 508.8,99.7 452.2,79.7" fill="#fff"/><polyline points="452.2,50.9 455.0,49.0 511.8,67.5 511.8,98.0 508.8,99.7" fill="#fff"/><line x1="452.2" y1="50.9" x2="508.8" y2="69.2" stroke-width="1.4"/><line x1="508.8" y1="69.2" x2="511.8" y2="67.5"/><circle cx="453.8" cy="66.5" r="1.1" fill="#333" stroke="none"/><circle cx="507.0" cy="85.0" r="1.1" fill="#333" stroke="none"/><text x="480.9" y="76.2" font-size="15.5" text-anchor="middle" stroke="none" fill="#222">9</text><polyline points="511.8,70.0 529.0,66.5 529.0,95.3 512.3,95.3" fill="#fff"/><polyline points="513.1,95.3 513.1,100.0 527.0,100.0 527.0,95.3" fill="none"/><text x="521.5" y="83.6" font-size="15.5" text-anchor="middle" stroke="none" fill="#222">13</text><polyline points="528.8,104.0 528.8,74.4 651.7,55.9 651.7,76.5" fill="#fff"/><line x1="528.8" y1="73.8" x2="651.7" y2="55.3" stroke-width="1.8"/><line x1="531.4" y1="74.4" x2="531.4" y2="104.0" stroke-width="0.7"/><line x1="528.8" y1="104.0" x2="542.8" y2="102.0"/><text x="589.0" y="82.1" font-size="15.5" text-anchor="middle" stroke="none" fill="#222">10</text><polygon points="542.8,93.6 684.5,72.7 684.5,120.5 542.8,141.5" fill="#fff"/><line x1="542.8" y1="93.2" x2="684.5" y2="72.2" stroke-width="1.8"/><line x1="546.3" y1="93.0" x2="546.3" y2="141.0" stroke-width="0.7"/><text x="631.0" y="113.0" font-size="15.5" text-anchor="middle" stroke="none" fill="#222">12</text><line x1="556.0" y1="54.5" x2="637.7" y2="73.7" stroke-dasharray="5,2.5"/><circle cx="637.7" cy="73.7" r="1.2" fill="#333" stroke="none"/><line x1="556.0" y1="54.5" x2="607.7" y2="78.3" stroke-dasharray="5,2.5"/><circle cx="607.7" cy="78.3" r="1.2" fill="#333" stroke="none"/><line x1="556.0" y1="54.5" x2="576.9" y2="83.0" stroke-dasharray="5,2.5"/><circle cx="576.9" cy="83.0" r="1.2" fill="#333" stroke="none"/><line x1="556.0" y1="54.5" x2="545.4" y2="86.6" stroke-dasharray="5,2.5"/><circle cx="545.4" cy="86.6" r="1.2" fill="#333" stroke="none"/><circle cx="550.6" cy="49.2" r="8.7" fill="#fff"/><line x1="544.5" y1="46.6" x2="557.6" y2="51.8" stroke-width="2.6"/><text x="0" y="0" font-size="16" text-anchor="middle" stroke="none" fill="#222" transform="translate(561,43.5) rotate(26)">4x30</text><circle cx="416.0" cy="71.2" r="20.4" fill="#fff"/><polygon points="400.2,75.3 410.1,73.5 409.2,68.6 399.3,70.4" fill="#fff"/><polygon points="410.1,73.5 430.7,69.4 434.6,66.5 429.9,65.2 409.2,68.6" fill="#2a2a2a"/><line x1="411.0" y1="72.3" x2="411.4" y2="69.2" stroke="#fff" stroke-width="0.7"/><line x1="412.7" y1="72.0" x2="413.1" y2="68.9" stroke="#fff" stroke-width="0.7"/><line x1="414.4" y1="71.7" x2="414.8" y2="68.6" stroke="#fff" stroke-width="0.7"/><line x1="416.2" y1="71.4" x2="416.5" y2="68.3" stroke="#fff" stroke-width="0.7"/><line x1="417.9" y1="71.1" x2="418.2" y2="68.0" stroke="#fff" stroke-width="0.7"/><line x1="419.6" y1="70.8" x2="419.9" y2="67.7" stroke="#fff" stroke-width="0.7"/><line x1="421.3" y1="70.5" x2="421.7" y2="67.3" stroke="#fff" stroke-width="0.7"/><line x1="423.0" y1="70.1" x2="423.4" y2="67.0" stroke="#fff" stroke-width="0.7"/><line x1="424.7" y1="69.8" x2="425.1" y2="66.7" stroke="#fff" stroke-width="0.7"/><line x1="426.5" y1="69.5" x2="426.8" y2="66.4" stroke="#fff" stroke-width="0.7"/><line x1="428.2" y1="69.2" x2="428.5" y2="66.1" stroke="#fff" stroke-width="0.7"/><line x1="429.9" y1="68.9" x2="430.2" y2="65.8" stroke="#fff" stroke-width="0.7"/><ellipse cx="399.0" cy="73.0" rx="1.9" ry="3.5" transform="rotate(-10.3 399.0 73.0)" fill="#fff" stroke-width="1.1"/><circle cx="399.0" cy="73.0" r="1.4" fill="none" stroke-width="0.8"/><line x1="435.7" y1="74.7" x2="453.2" y2="66.5"/><line x1="435.7" y1="74.7" x2="506.6" y2="85.1"/><polygon points="448.5,96.0 507.7,114.0 509.5,118.8 506.0,119.0 449.0,101.5" fill="#fff"/><line x1="452.0" y1="100.0" x2="506.0" y2="116.5" stroke-width="0.7"/><circle cx="449.7" cy="98.0" r="3.3" fill="#fff" stroke-width="1.2"/><circle cx="449.7" cy="98.0" r="1.4" fill="none" stroke-width="0.7"/><circle cx="462.4" cy="133.9" r="12.8" fill="#fff"/><polygon points="464.7,142.1 464.7,140.7 460.1,140.7 460.1,142.1" fill="#fff"/><polygon points="464.7,140.7 464.4,126.2 462.4,124.0 460.4,126.2 460.1,140.7" fill="#2a2a2a"/><line x1="463.8" y1="140.1" x2="461.0" y2="139.6" stroke="#fff" stroke-width="0.7"/><line x1="463.8" y1="137.4" x2="461.0" y2="136.9" stroke="#fff" stroke-width="0.7"/><line x1="463.8" y1="134.7" x2="461.0" y2="134.2" stroke="#fff" stroke-width="0.7"/><line x1="463.8" y1="132.0" x2="461.0" y2="131.5" stroke="#fff" stroke-width="0.7"/><line x1="463.8" y1="129.3" x2="461.0" y2="128.8" stroke="#fff" stroke-width="0.7"/><line x1="463.8" y1="126.6" x2="461.0" y2="126.1" stroke="#fff" stroke-width="0.7"/><ellipse cx="462.4" cy="142.5" rx="2.5" ry="4.2" transform="rotate(-90.0 462.4 142.5)" fill="#2a2a2a"/><line x1="459.5" y1="142.5" x2="465.3" y2="142.5" stroke="#fff" stroke-width="0.9"/><line x1="462.4" y1="144.4" x2="462.4" y2="140.6" stroke="#fff" stroke-width="0.9"/><line x1="459.0" y1="103.7" x2="467.1" y2="121.1"/><line x1="507.7" y1="118.8" x2="467.1" y2="121.1"/><circle cx="527.5" cy="149.0" r="11.1" fill="#fff"/><line x1="527.5" y1="139.0" x2="527.5" y2="158.0" stroke-width="1.3"/><line x1="525.0" y1="158.5" x2="530.0" y2="158.5" stroke-width="1.5"/><line x1="524.5" y1="138.0" x2="513.5" y2="100.0"/><line x1="527.5" y1="138.0" x2="527.5" y2="100.0"/><polygon points="19.5,633.2 28.5,628.1 25.5,622.7 16.5,627.9" fill="#fff"/><polygon points="28.5,628.1 53.0,613.7 56.4,608.7 50.4,609.1 25.5,622.7" fill="#2a2a2a"/><line x1="29.1" y1="626.4" x2="28.2" y2="622.6" stroke="#fff" stroke-width="0.7"/><line x1="31.0" y1="625.3" x2="30.1" y2="621.5" stroke="#fff" stroke-width="0.7"/><line x1="32.9" y1="624.2" x2="32.0" y2="620.4" stroke="#fff" stroke-width="0.7"/><line x1="34.8" y1="623.1" x2="33.9" y2="619.3" stroke="#fff" stroke-width="0.7"/><line x1="36.7" y1="622.1" x2="35.8" y2="618.3" stroke="#fff" stroke-width="0.7"/><line x1="38.6" y1="621.0" x2="37.7" y2="617.2" stroke="#fff" stroke-width="0.7"/><line x1="40.5" y1="619.9" x2="39.6" y2="616.1" stroke="#fff" stroke-width="0.7"/><line x1="42.4" y1="618.8" x2="41.5" y2="615.0" stroke="#fff" stroke-width="0.7"/><line x1="44.3" y1="617.8" x2="43.4" y2="614.0" stroke="#fff" stroke-width="0.7"/><line x1="46.1" y1="616.7" x2="45.3" y2="612.9" stroke="#fff" stroke-width="0.7"/><line x1="48.0" y1="615.6" x2="47.2" y2="611.8" stroke="#fff" stroke-width="0.7"/><line x1="49.9" y1="614.5" x2="49.1" y2="610.7" stroke="#fff" stroke-width="0.7"/><line x1="51.8" y1="613.4" x2="51.0" y2="609.6" stroke="#fff" stroke-width="0.7"/><ellipse cx="17.2" cy="631.0" rx="3.0" ry="5.5" transform="rotate(-29.6 17.2 631.0)" fill="#fff" stroke-width="1.1"/><circle cx="17.2" cy="631.0" r="2.2" fill="none" stroke-width="0.8"/><polygon points="88.5,618.5 90.5,615.2 93.0,616.2 91.3,619.5" fill="#fff" stroke-width="0.9"/><ellipse cx="92" cy="615.8" rx="1.3" ry="1.8" transform="rotate(30 92 615.8)" fill="#fff" stroke-width="0.8"/><ellipse cx="85.3" cy="621" rx="5.4" ry="7.9" transform="rotate(-22 85.3 621)" fill="#fff" stroke-width="1"/><polyline points="143.3,602.0 117.8,616.5 162.3,641.8" fill="none" stroke-width="5" stroke="#222" stroke-linejoin="miter"/><polyline points="143.3,602.0 117.8,616.5 162.3,641.8" fill="none" stroke-width="2.8" stroke="#fff" stroke-linejoin="miter"/><polyline points="143.3,602.0 117.8,616.5 162.3,641.8" fill="none" stroke-width="0.5" stroke="#777" stroke-linejoin="miter"/><ellipse cx="162.3" cy="641.8" rx="1.6" ry="2.4" transform="rotate(-60 162.3 641.8)" fill="#fff" stroke-width="0.8"/><polygon points="173.9,617.2 189.6,606.8 219.6,625.0 204.0,634.2" fill="#fff"/><polyline points="173.9,617.2 173.9,620.5 204.0,637.5 219.6,628.3 219.6,625.0" fill="none"/><line x1="204.0" y1="634.2" x2="204.0" y2="637.5"/><path d="M193.5,608 Q210,606 218.3,622.4" fill="none"/><circle cx="185.5" cy="613.5" r="1" fill="#333" stroke="none"/><circle cx="207.0" cy="626.5" r="1" fill="#333" stroke="none"/><line x1="240.5" y1="613.5" x2="240.5" y2="631.6" stroke-width="1.6"/><circle cx="240.5" cy="613.0" r="1.3" fill="#333"/><polygon points="274.8,629.0 276.6,628.0 273.9,623.2 272.1,624.2" fill="#fff"/><polygon points="276.6,628.0 290.0,619.9 291.0,616.7 287.7,615.9 273.9,623.2" fill="#2a2a2a"/><line x1="276.6" y1="626.7" x2="275.4" y2="623.6" stroke="#fff" stroke-width="0.7"/><line x1="279.8" y1="624.9" x2="278.6" y2="621.8" stroke="#fff" stroke-width="0.7"/><line x1="283.0" y1="623.1" x2="281.8" y2="620.0" stroke="#fff" stroke-width="0.7"/><line x1="286.1" y1="621.3" x2="285.0" y2="618.2" stroke="#fff" stroke-width="0.7"/><line x1="289.3" y1="619.6" x2="288.1" y2="616.4" stroke="#fff" stroke-width="0.7"/><ellipse cx="273.1" cy="626.8" rx="2.8" ry="4.6" transform="rotate(-29.4 273.1 626.8)" fill="#2a2a2a"/><line x1="271.5" y1="624.0" x2="274.7" y2="629.6" stroke="#fff" stroke-width="0.9"/><line x1="271.3" y1="627.8" x2="274.9" y2="625.8" stroke="#fff" stroke-width="0.9"/><polygon points="310.1,635.1 312.5,633.7 310.1,629.4 307.6,630.8" fill="#fff"/><polygon points="312.5,633.7 336.5,619.5 339.2,615.5 334.4,615.8 310.1,629.4" fill="#2a2a2a"/><line x1="313.0" y1="632.3" x2="312.3" y2="629.2" stroke="#fff" stroke-width="0.7"/><line x1="315.5" y1="630.8" x2="314.8" y2="627.8" stroke="#fff" stroke-width="0.7"/><line x1="318.0" y1="629.4" x2="317.3" y2="626.4" stroke="#fff" stroke-width="0.7"/><line x1="320.5" y1="628.0" x2="319.8" y2="624.9" stroke="#fff" stroke-width="0.7"/><line x1="323.0" y1="626.5" x2="322.3" y2="623.5" stroke="#fff" stroke-width="0.7"/><line x1="325.5" y1="625.1" x2="324.8" y2="622.0" stroke="#fff" stroke-width="0.7"/><line x1="328.1" y1="623.6" x2="327.3" y2="620.6" stroke="#fff" stroke-width="0.7"/><line x1="330.6" y1="622.2" x2="329.9" y2="619.1" stroke="#fff" stroke-width="0.7"/><line x1="333.1" y1="620.7" x2="332.4" y2="617.7" stroke="#fff" stroke-width="0.7"/><line x1="335.6" y1="619.3" x2="334.9" y2="616.2" stroke="#fff" stroke-width="0.7"/><ellipse cx="308.2" cy="633.3" rx="2.8" ry="4.6" transform="rotate(-29.9 308.2 633.3)" fill="#2a2a2a"/><line x1="306.6" y1="630.5" x2="309.8" y2="636.1" stroke="#fff" stroke-width="0.9"/><line x1="306.4" y1="634.3" x2="310.0" y2="632.3" stroke="#fff" stroke-width="0.9"/><polygon points="360.1,633.9 385.5,619.2 380.9,611.4 355.5,626.1" fill="#fff" stroke-width="1.1"/><ellipse cx="383.2" cy="615.3" rx="2.5" ry="4.5" transform="rotate(-30 383.2 615.3)" fill="#fff"/><polygon points="385.2,618.3 394.3,611.9 390.7,606.5 381.2,612.3" fill="#2a2a2a"/><line x1="386.7" y1="616.6" x2="383.9" y2="611.3" stroke="#fff" stroke-width="0.8"/><line x1="389.0" y1="615.1" x2="386.2" y2="609.7" stroke="#fff" stroke-width="0.8"/><line x1="391.4" y1="613.5" x2="388.5" y2="608.2" stroke="#fff" stroke-width="0.8"/><line x1="393.4" y1="612.2" x2="390.6" y2="606.9" stroke="#fff" stroke-width="0.8"/><ellipse cx="354.8" cy="629.6" rx="2" ry="3" transform="rotate(-30 354.8 629.6)" fill="#fff"/><ellipse cx="349.6" cy="632.3" rx="3.2" ry="4.6" transform="rotate(-30 349.6 632.3)" fill="#333"/><line x1="347.5" y1="630.5" x2="351.8" y2="634.0" stroke-width="0.9" stroke="#fff"/><line x1="347.8" y1="634.2" x2="351.5" y2="630.4" stroke-width="0.9" stroke="#fff"/><polyline points="410.2,615.0 410.2,628.0 413.0,633.8 424.0,633.8 427.8,628.0 427.8,615.0" fill="#fff" stroke-width="1.1"/><ellipse cx="419.2" cy="614.6" rx="9" ry="5.4" fill="#fff" stroke-width="1.2"/><line x1="414.5" y1="612.5" x2="424.0" y2="616.7" stroke-width="1.6"/><line x1="414.5" y1="616.7" x2="424.0" y2="612.5" stroke-width="1.6"/><rect x="414" y="621.5" width="8.5" height="4" fill="#444" stroke="#222" stroke-width="0.6"/><line x1="416.0" y1="621.5" x2="416.0" y2="625.5" stroke-width="0.5" stroke="#fff"/><line x1="419.0" y1="621.5" x2="419.0" y2="625.5" stroke-width="0.5" stroke="#fff"/><path d="M409,627 L412,630 M418,633.8 Q424,634 426,629 Q423,626 419,628" fill="none" stroke-width="1.1"/><ellipse cx="484.5" cy="619.3" rx="13" ry="7" fill="#fff"/><path d="M471.8,620.5 Q484.5,630 497.2,620.5" fill="none"/><polygon points="529.0,615.5 547.5,605.8 551.5,613.3 533.0,623.0" fill="#fff"/><ellipse cx="531" cy="619.3" rx="2.6" ry="4.2" transform="rotate(-28 531 619.3)" fill="#fff"/><line x1="532.0" y1="617.0" x2="549.0" y2="608.5" stroke-width="0.5"/><polygon points="565.6,596.5 648.9,621.8 652.0,620.5 655.6,623.5 656.5,635.2 649.8,635.2 565.6,605.8" fill="#fff" stroke-width="1.1"/><line x1="567.0" y1="599.5" x2="648.0" y2="624.5" stroke-width="0.8"/><line x1="567.0" y1="603.0" x2="648.0" y2="628.0" stroke-width="0.8"/><line x1="648.9" y1="621.8" x2="649.8" y2="635.2" stroke-width="0.8"/><rect x="650.5" y="626" width="4" height="6" fill="#555" stroke="none"/><circle cx="572.0" cy="600.5" r="0.9" fill="#333" stroke="none"/><circle cx="579.0" cy="603.0" r="0.9" fill="#333" stroke="none"/><circle cx="585.5" cy="605.0" r="0.9" fill="#333" stroke="none"/><circle cx="594.0" cy="608.0" r="0.9" fill="#333" stroke="none"/><circle cx="621.0" cy="616.5" r="0.9" fill="#333" stroke="none"/><circle cx="640.5" cy="624.0" r="0.9" fill="#333" stroke="none"/><polygon points="566.4,613.4 656.5,641.1 656.5,649.6 655.6,649.6 563.0,619.3 566.4,620.0" fill="#fff" stroke-width="1.1"/><line x1="566.4" y1="616.5" x2="656.0" y2="644.5" stroke-width="0.8"/><line x1="566.4" y1="613.4" x2="566.4" y2="620.0"/></g><line x1="358.4" y1="269.9" x2="574.6" y2="262.7" stroke="#000" stroke-width="3"/><polygon points="348.0,270.2 361.1,274.3 360.8,265.3" fill="#000"/><polygon points="585.0,262.4 572.2,267.3 571.9,258.3" fill="#000"/><line x1="599.1" y1="264.9" x2="631.1" y2="273.1" stroke="#000" stroke-width="3"/><polygon points="589.0,262.4 600.5,269.9 602.7,261.2" fill="#000"/><polygon points="641.2,275.6 627.5,276.8 629.7,268.1" fill="#000"/><line x1="341.0" y1="292.2" x2="341.0" y2="522.3" stroke="#000" stroke-width="3"/><polygon points="341.0,281.8 336.5,294.8 345.5,294.8" fill="#000"/><polygon points="341.0,532.7 336.5,519.7 345.5,519.7" fill="#000"/><text x="427.6" y="260.4" font-size="18" font-family="Liberation Sans" font-weight="bold" fill="#111" textLength="72.7" lengthAdjust="spacingAndGlyphs" transform="rotate(-2 464 255)">1204 мм</text><text x="0" y="0" font-size="18" font-family="Liberation Sans" font-weight="bold" fill="#111" textLength="56.5" lengthAdjust="spacingAndGlyphs" transform="translate(597.5,255.5) rotate(14)">410 мм</text><text x="0" y="0" font-size="18" font-family="Liberation Sans" font-weight="bold" fill="#111" text-anchor="middle" textLength="75" lengthAdjust="spacingAndGlyphs" transform="translate(336.5,391.5) rotate(-90)">1150 мм</text><g stroke="#222" stroke-width="1.2" fill="none"><line x1="12" y1="353.50" x2="244" y2="353.50"/><line x1="12" y1="367.78" x2="244" y2="367.78"/><line x1="12" y1="382.06" x2="244" y2="382.06"/><line x1="12" y1="396.34" x2="244" y2="396.34"/><line x1="12" y1="410.62" x2="244" y2="410.62"/><line x1="12" y1="424.90" x2="244" y2="424.90"/><line x1="12" y1="439.18" x2="244" y2="439.18"/><line x1="12" y1="453.46" x2="244" y2="453.46"/><line x1="12" y1="467.74" x2="244" y2="467.74"/><line x1="12" y1="482.02" x2="244" y2="482.02"/><line x1="12" y1="496.30" x2="244" y2="496.30"/><line x1="12" y1="510.58" x2="244" y2="510.58"/><line x1="12" y1="524.86" x2="244" y2="524.86"/><line x1="12" y1="539.14" x2="244" y2="539.14"/><line x1="12" y1="553.42" x2="244" y2="553.42"/><line x1="12" y1="567.70" x2="244" y2="567.70"/><line x1="12" y1="353.5" x2="12" y2="567.70"/><line x1="30" y1="353.5" x2="30" y2="567.70"/><line x1="162.5" y1="353.5" x2="162.5" y2="567.70"/><line x1="226.5" y1="353.5" x2="226.5" y2="567.70"/><line x1="244" y1="353.5" x2="244" y2="567.70"/></g><g font-family="Liberation Serif" font-size="14" fill="#111"><text x="21" y="365.80" text-anchor="middle">1</text><text x="34.4" y="365.80" textLength="89.9" lengthAdjust="spacingAndGlyphs">Боковина левая</text><text x="167" y="365.80" textLength="52.8" lengthAdjust="spacingAndGlyphs">1134x388</text><text x="235.5" y="365.80" text-anchor="middle">1</text><text x="21" y="380.08" text-anchor="middle">2</text><text x="34.4" y="380.08" textLength="96.4" lengthAdjust="spacingAndGlyphs">Боковина правая</text><text x="167" y="380.08" textLength="52.8" lengthAdjust="spacingAndGlyphs">1134x388</text><text x="235.5" y="380.08" text-anchor="middle">1</text><text x="21" y="394.36" text-anchor="middle">3</text><text x="34.4" y="394.36" textLength="108.4" lengthAdjust="spacingAndGlyphs">Перегородка левая</text><text x="167" y="394.36" textLength="52.8" lengthAdjust="spacingAndGlyphs">1044x388</text><text x="235.5" y="394.36" text-anchor="middle">1</text><text x="21" y="408.64" text-anchor="middle">4</text><text x="34.4" y="408.64" textLength="116.1" lengthAdjust="spacingAndGlyphs">Перегородка правая</text><text x="167" y="408.64" textLength="52.8" lengthAdjust="spacingAndGlyphs">1044x388</text><text x="235.5" y="408.64" text-anchor="middle">1</text><text x="21" y="422.92" text-anchor="middle">5</text><text x="34.4" y="422.92" textLength="86.6" lengthAdjust="spacingAndGlyphs">Крыша комода</text><text x="167" y="422.92" textLength="52.8" lengthAdjust="spacingAndGlyphs">1204x406</text><text x="235.5" y="422.92" text-anchor="middle">1</text><text x="21" y="437.20" text-anchor="middle">6</text><text x="34.4" y="437.20" textLength="68" lengthAdjust="spacingAndGlyphs">Дно комода</text><text x="167" y="437.20" textLength="52.8" lengthAdjust="spacingAndGlyphs">1168x388</text><text x="235.5" y="437.20" text-anchor="middle">1</text><text x="21" y="451.48" text-anchor="middle">7</text><text x="51.3" y="451.48" textLength="41.8" lengthAdjust="spacingAndGlyphs">Цоколь</text><text x="167" y="451.48" textLength="45" lengthAdjust="spacingAndGlyphs">1168x74</text><text x="235.5" y="451.48" text-anchor="middle">1</text><text x="21" y="465.76" text-anchor="middle">8</text><text x="51.8" y="465.76" textLength="40.6" lengthAdjust="spacingAndGlyphs">Планка</text><text x="173" y="465.76" textLength="40.3" lengthAdjust="spacingAndGlyphs">568x60</text><text x="235.5" y="465.76" text-anchor="middle">10</text><text x="21" y="480.04" text-anchor="middle">9</text><text x="35.1" y="480.04" textLength="94.5" lengthAdjust="spacingAndGlyphs">Боковина ящика</text><text x="173" y="480.04" textLength="46.8" lengthAdjust="spacingAndGlyphs">350x110</text><text x="235.5" y="480.04" text-anchor="middle">20</text><text x="21" y="494.32" text-anchor="middle">10</text><text x="35.1" y="494.32" textLength="124.7" lengthAdjust="spacingAndGlyphs">Щит ящика передний</text><text x="173" y="494.32" textLength="47" lengthAdjust="spacingAndGlyphs">511x110</text><text x="235.5" y="494.32" text-anchor="middle">10</text><text x="21" y="508.60" text-anchor="middle">11</text><text x="35.1" y="508.60" textLength="109.6" lengthAdjust="spacingAndGlyphs">Щит ящика задний</text><text x="173" y="508.60" textLength="47" lengthAdjust="spacingAndGlyphs">511x110</text><text x="235.5" y="508.60" text-anchor="middle">10</text><text x="21" y="522.88" text-anchor="middle">12</text><text x="44.8" y="522.88" textLength="74.4" lengthAdjust="spacingAndGlyphs">Фасад ящика</text><text x="172" y="522.88" textLength="46" lengthAdjust="spacingAndGlyphs">596x170</text><text x="235.5" y="522.88" text-anchor="middle">10</text><text x="21" y="537.16" text-anchor="middle">13</text><text x="44.8" y="537.16" textLength="62.2" lengthAdjust="spacingAndGlyphs">Дно ящика</text><text x="172" y="537.16" textLength="46" lengthAdjust="spacingAndGlyphs">540x346</text><text x="235.5" y="537.16" text-anchor="middle">10</text><text x="21" y="551.44" text-anchor="middle">14</text><text x="42.5" y="551.44" textLength="81.3" lengthAdjust="spacingAndGlyphs">Стенка задняя</text><text x="172" y="551.44" textLength="53.3" lengthAdjust="spacingAndGlyphs">1070x298</text><text x="235.5" y="551.44" text-anchor="middle">4</text><text x="21" y="565.72" text-anchor="middle">15</text><text x="32" y="565.72" font-size="13.5" textLength="120.8" lengthAdjust="spacingAndGlyphs">Профиль соединительный</text><text x="165" y="565.72" textLength="60.3" lengthAdjust="spacingAndGlyphs">L=1042мм</text><text x="235.5" y="565.72" text-anchor="middle">2</text></g><g stroke="#222" stroke-width="1.2" fill="none"><line x1="10" y1="595" x2="674" y2="595"/><line x1="10" y1="652" x2="674" y2="652"/><line x1="10" y1="676.5" x2="674" y2="676.5"/><line x1="10" y1="695.5" x2="674" y2="695.5"/><line x1="10" y1="595" x2="10" y2="695.5"/><line x1="62" y1="595" x2="62" y2="695.5"/><line x1="112" y1="595" x2="112" y2="695.5"/><line x1="171.5" y1="595" x2="171.5" y2="695.5"/><line x1="226" y1="595" x2="226" y2="695.5"/><line x1="263" y1="595" x2="263" y2="695.5"/><line x1="302.5" y1="595" x2="302.5" y2="695.5"/><line x1="344.5" y1="595" x2="344.5" y2="695.5"/><line x1="395.5" y1="595" x2="395.5" y2="695.5"/><line x1="448.5" y1="595" x2="448.5" y2="695.5"/><line x1="517" y1="595" x2="517" y2="695.5"/><line x1="559" y1="595" x2="559" y2="695.5"/><line x1="674" y1="595" x2="674" y2="695.5"/></g><g font-family="Liberation Serif" fill="#111"><text x="38" y="668" text-anchor="middle" font-size="11.5" textLength="44.7" lengthAdjust="spacingAndGlyphs">Евровинт</text><text x="39.3" y="691.8" text-anchor="middle" font-size="17" textLength="15.4" lengthAdjust="spacingAndGlyphs">34</text><text x="86.7" y="668" text-anchor="middle" font-size="11.5" textLength="45.4" lengthAdjust="spacingAndGlyphs">Заглушка</text><text x="85.1" y="691.8" text-anchor="middle" font-size="17" textLength="8" lengthAdjust="spacingAndGlyphs">6</text><text x="142" y="668" text-anchor="middle" font-size="11.5" textLength="47.9" lengthAdjust="spacingAndGlyphs">Евроключ</text><text x="141" y="691.8" text-anchor="middle" font-size="17" textLength="7" lengthAdjust="spacingAndGlyphs">1</text><text x="194.3" y="668" text-anchor="middle" font-size="11.5" textLength="32.2" lengthAdjust="spacingAndGlyphs">Ножка</text><text x="194.2" y="691.8" text-anchor="middle" font-size="17" textLength="8" lengthAdjust="spacingAndGlyphs">5</text><text x="244.3" y="668" text-anchor="middle" font-size="11.5" textLength="33.1" lengthAdjust="spacingAndGlyphs">Гвоздь</text><text x="244.4" y="691.8" text-anchor="middle" font-size="17" textLength="23.3" lengthAdjust="spacingAndGlyphs">100</text><text x="282.1" y="662.5" text-anchor="middle" font-size="11.5" textLength="36" lengthAdjust="spacingAndGlyphs">Шуруп</text><text x="281.4" y="674.3" text-anchor="middle" font-size="11.5" textLength="21.7" lengthAdjust="spacingAndGlyphs">4x16</text><text x="281.4" y="691.8" text-anchor="middle" font-size="17" textLength="15.9" lengthAdjust="spacingAndGlyphs">80</text><text x="321.2" y="662.5" text-anchor="middle" font-size="11.5" textLength="34.9" lengthAdjust="spacingAndGlyphs">Шуруп</text><text x="319.8" y="674.3" text-anchor="middle" font-size="11.5" textLength="23.2" lengthAdjust="spacingAndGlyphs">4x30</text><text x="320.5" y="691.8" text-anchor="middle" font-size="17" textLength="15.9" lengthAdjust="spacingAndGlyphs">40</text><text x="369.2" y="662.5" text-anchor="middle" font-size="11.5" textLength="46.4" lengthAdjust="spacingAndGlyphs">Ввинчив.</text><text x="368.9" y="674.3" text-anchor="middle" font-size="11.5" textLength="32.6" lengthAdjust="spacingAndGlyphs">дюбель</text><text x="364.1" y="691.8" text-anchor="middle" font-size="17" textLength="7.6" lengthAdjust="spacingAndGlyphs">8</text><text x="421.2" y="662.5" text-anchor="middle" font-size="11.5" textLength="48.7" lengthAdjust="spacingAndGlyphs">Эксцентр.</text><text x="420" y="674.3" text-anchor="middle" font-size="11.5" textLength="32" lengthAdjust="spacingAndGlyphs">стяжка</text><text x="418.3" y="691.8" text-anchor="middle" font-size="17" textLength="7.6" lengthAdjust="spacingAndGlyphs">8</text><text x="482.7" y="662.5" text-anchor="middle" font-size="11.5" textLength="66.2" lengthAdjust="spacingAndGlyphs">Заглушка для</text><text x="482.4" y="674.3" text-anchor="middle" font-size="11.5" textLength="61" lengthAdjust="spacingAndGlyphs">эксцентрика</text><text x="483.1" y="691.8" text-anchor="middle" font-size="17" textLength="7.6" lengthAdjust="spacingAndGlyphs">8</text><text x="537.2" y="668" text-anchor="middle" font-size="11.5" textLength="32.5" lengthAdjust="spacingAndGlyphs">Шкант</text><text x="539.8" y="691.8" text-anchor="middle" font-size="17" textLength="17.4" lengthAdjust="spacingAndGlyphs">40</text><text x="615" y="662.5" text-anchor="middle" font-size="11.5" textLength="102.2" lengthAdjust="spacingAndGlyphs">Комплект роликовых</text><text x="617.8" y="674.3" text-anchor="middle" font-size="11.5" textLength="109.5" lengthAdjust="spacingAndGlyphs">направляющих L=350мм</text><text x="623.3" y="691.8" text-anchor="middle" font-size="17" textLength="15.9" lengthAdjust="spacingAndGlyphs">10</text></g><text x="166" y="591" font-family="Liberation Serif" font-size="19.5" fill="#111" textLength="366" lengthAdjust="spacingAndGlyphs">Комплект фурнитуры для сборки комода</text></svg></body></html>
